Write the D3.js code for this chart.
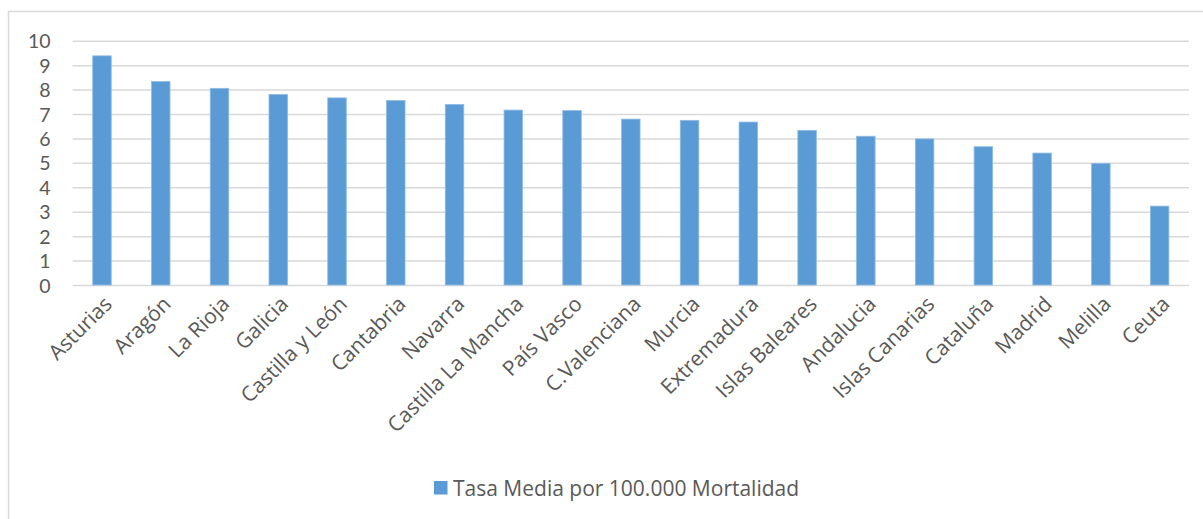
<!DOCTYPE html>
<html>
<head>
<meta charset="utf-8">
<script src="https://cdn.jsdelivr.net/npm/d3@7"></script>
<style>
  html, body { margin: 0; padding: 0; background: #fff; }
  svg { display: block; }
  svg text { font-family: "Open Sans", Lato, sans-serif; }
  svg .y-axis text { font-family: Lato, "Open Sans", sans-serif; }
</style>
</head>
<body>
<svg id="chart" width="1203" height="519"></svg>
<script>
// Average mortality rate per 100,000 inhabitants by autonomous community
const regions = ["Asturias", "Aragón", "La Rioja", "Galicia", "Castilla y León", "Cantabria",
  "Navarra", "Castilla La Mancha", "País Vasco", "C.Valenciana", "Murcia", "Extremadura",
  "Islas Baleares", "Andalucia", "Islas Canarias", "Cataluña", "Madrid", "Melilla", "Ceuta"];
const rates = [9.38, 8.33, 8.05, 7.8, 7.66, 7.55, 7.39, 7.16, 7.14, 6.79, 6.74, 6.67,
  6.33, 6.09, 5.98, 5.66, 5.4, 4.98, 3.23];
const yTicks = [0, 1, 2, 3, 4, 5, 6, 7, 8, 9, 10];
const seriesName = "Tasa Media por 100.000 Mortalidad";

const svg = d3.select("#chart");
const textColor = "#595959";
const gridColor = "#d9d9d9";
const barColor = "#5b9bd5";
const fontSize = "21px";

// chart frame (continues past the right and bottom edges)
svg.append("rect")
  .attr("x", 8.5).attr("y", 11.5)
  .attr("width", 1210).attr("height", 520)
  .attr("fill", "none").attr("stroke", gridColor).attr("stroke-width", 1.5);

const plot = { left: 72.6, right: 1189, top: 40.7, bottom: 285 };

const x = d3.scaleBand()
  .domain(regions)
  .range([plot.left, plot.right])
  .paddingInner(0.685)
  .paddingOuter(0.3425);

const y = d3.scaleLinear()
  .domain([0, 10])
  .range([plot.bottom, plot.top]);

// horizontal gridlines + value labels
const yAxis = d3.axisLeft(y)
  .tickValues(yTicks)
  .tickSize(-(plot.right - plot.left))
  .tickPadding(22)
  .tickFormat(d3.format("d"));

const gy = svg.append("g")
  .attr("class", "y-axis")
  .attr("transform", `translate(${plot.left},0)`)
  .call(yAxis)
  .attr("font-family", null).attr("font-size", null);
gy.select(".domain").remove();
gy.selectAll(".tick line").attr("stroke", gridColor).attr("stroke-width", 1.5);
gy.selectAll(".tick text")
  .attr("fill", textColor)
  .style("font-size", "19.5px")
  .attr("dy", "0.36em");

// bars
svg.append("g")
  .selectAll("rect")
  .data(regions)
  .join("rect")
  .attr("x", d => x(d))
  .attr("width", x.bandwidth())
  .attr("y", (d, i) => y(rates[i]))
  .attr("height", (d, i) => y(0) - y(rates[i]))
  .attr("fill", barColor)
  .attr("stroke", "#8fbbe3")
  .attr("stroke-width", 0.8);

// category labels, rotated
const xAxis = d3.axisBottom(x).tickSize(0).tickPadding(0);
const gx = svg.append("g")
  .attr("transform", `translate(0,${plot.bottom})`)
  .call(xAxis)
  .attr("font-family", null).attr("font-size", null);
gx.select(".domain").remove();
gx.selectAll(".tick text")
  .attr("fill", textColor)
  .style("font-size", fontSize)
  .attr("text-anchor", "end")
  .attr("transform", "translate(6,15) rotate(-45)")
  .attr("dy", "0.36em");

// legend
const legend = svg.append("g").attr("transform", "translate(434,481)");
legend.append("rect")
  .attr("width", 13.5).attr("height", 13.5)
  .attr("fill", barColor);
legend.append("text")
  .attr("x", 19).attr("y", 7)
  .attr("dy", "0.36em")
  .attr("fill", textColor)
  .style("font-size", fontSize)
  .text(seriesName);
</script>
</body>
</html>
